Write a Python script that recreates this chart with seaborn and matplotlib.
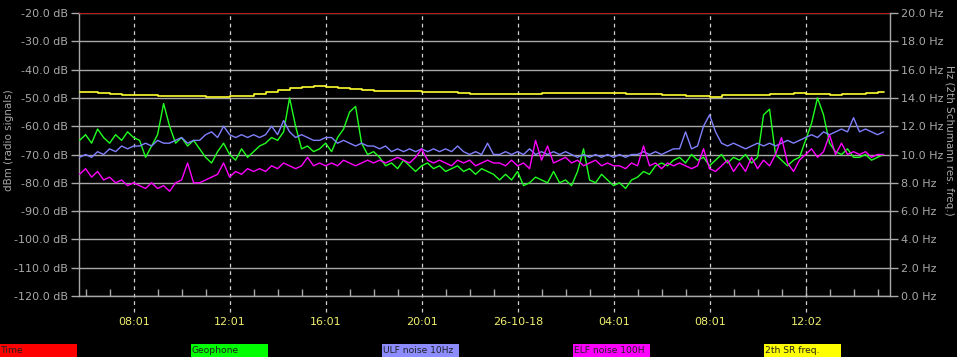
import numpy as np
import matplotlib
matplotlib.use("Agg")
import matplotlib.pyplot as plt
from matplotlib.patches import Rectangle
import seaborn as sns

# hours counted from 25-10-18 00:00, one sample every 15 min
hours = 5.75 + 0.25 * np.arange(135)
hours_sr = 5.75 + 0.5 * np.arange(68)

geophone = [
    -65, -63, -66, -61, -64, -66, -63, -65, -62, -64,
    -65, -71, -67, -63, -52, -60, -66, -64, -67, -65,
    -68, -71, -73, -69, -66, -70, -72, -68, -71, -69,
    -67, -66, -64, -65, -62, -50, -60, -68, -67, -69,
    -68, -66, -69, -64, -61, -55, -53, -66, -70, -69,
    -71, -74, -73, -75, -72, -74, -76, -74, -73, -75,
    -74, -76, -75, -74, -76, -75, -77, -75, -76, -77,
    -79, -77, -79, -76, -81, -80, -78, -79, -80, -76,
    -80, -79, -81, -76, -68, -79, -80, -77, -79, -81,
    -80, -82, -79, -78, -76, -77, -74, -73, -74, -72,
    -71, -73, -70, -72, -71, -74, -72, -70, -73, -71,
    -72, -70, -73, -71, -56, -54, -70, -72, -74, -72,
    -71, -65, -59, -50, -56, -66, -69, -70, -68, -71,
    -71, -70, -72, -71, -70]

ulf_noise = [
    -71, -70, -71, -69, -70, -68, -69, -67, -68, -67,
    -67, -66, -67, -65, -66, -66, -65, -64, -66, -65,
    -65, -63, -62, -64, -60, -63, -64, -63, -64, -63,
    -64, -63, -60, -63, -58, -62, -64, -63, -64, -65,
    -65, -64, -64, -66, -65, -66, -67, -66, -67, -67,
    -68, -67, -69, -68, -69, -68, -69, -68, -69, -68,
    -69, -68, -69, -67, -69, -70, -69, -70, -66, -70,
    -70, -69, -70, -69, -70, -68, -70, -69, -70, -69,
    -70, -69, -70, -71, -70, -71, -70, -71, -70, -71,
    -70, -71, -70, -70, -69, -70, -69, -70, -69, -68,
    -68, -62, -68, -67, -60, -56, -62, -66, -67, -66,
    -67, -68, -67, -66, -67, -66, -67, -66, -65, -66,
    -65, -64, -63, -64, -62, -63, -62, -61, -62, -57,
    -62, -61, -62, -63, -62]

elf_noise = [
    -77, -75, -78, -76, -79, -78, -80, -79, -81, -80,
    -81, -82, -80, -82, -81, -83, -80, -79, -73, -80,
    -80, -79, -78, -77, -73, -78, -76, -77, -75, -76,
    -75, -76, -74, -75, -73, -74, -75, -74, -71, -74,
    -73, -74, -73, -74, -72, -73, -74, -73, -72, -73,
    -72, -73, -72, -71, -72, -73, -71, -68, -72, -73,
    -72, -73, -74, -72, -73, -72, -74, -73, -72, -73,
    -73, -74, -72, -74, -73, -75, -65, -72, -67, -73,
    -72, -71, -73, -72, -74, -73, -72, -74, -73, -74,
    -74, -75, -73, -74, -67, -74, -73, -75, -73, -74,
    -73, -74, -75, -74, -68, -75, -76, -74, -72, -76,
    -73, -76, -71, -75, -72, -74, -70, -64, -73, -76,
    -72, -70, -68, -71, -69, -63, -70, -66, -70, -69,
    -70, -69, -71, -70, -70]

sr_freq = [
    14.4, 14.4, 14.35, 14.3, 14.2, 14.2, 14.2, 14.15, 14.15, 14.1,
    14.1, 14.05, 14.05, 14.1, 14.15, 14.3, 14.45, 14.55, 14.7, 14.8,
    14.85, 14.8, 14.7, 14.6, 14.55, 14.5, 14.5, 14.5, 14.5, 14.45,
    14.45, 14.4, 14.35, 14.3, 14.27, 14.27, 14.27, 14.27, 14.3, 14.35,
    14.37, 14.37, 14.37, 14.37, 14.37, 14.35, 14.3, 14.27, 14.25, 14.22,
    14.2, 14.15, 14.1, 14.05, 14.2, 14.2, 14.2, 14.2, 14.25, 14.3,
    14.33, 14.3, 14.25, 14.2, 14.25, 14.3, 14.35, 14.4]

time_level = -20.0
tick_hours = [8.017, 12.017, 16.017, 20.017, 24.017, 28.017, 32.017, 36.033]
tick_labels = ["08:01", "12:01", "16:01", "20:01", "26-10-18", "04:01", "08:01", "12:02"]
legend_names = ["Time", "Geophone", "ULF noise 10Hz", "ELF noise 100H", "2th SR freq."]
legend_colors = ["#ff0000", "#00ff00", "#8c8cff", "#ff00ff", "#ffff00"]

sns.set_style("dark")
plt.rcParams['font.family'] = ['DejaVu Sans']
grey = "#a8a8a8"

fig = plt.figure(figsize=(9.57, 3.57), dpi=100, facecolor="black")
ax = fig.add_axes([79 / 957, 1 - 296 / 357, 811 / 957, 283 / 357])
ax.set_facecolor("black")
ax2 = ax.twinx()

ax.set_xlim(5.725, 39.52)
ax.set_ylim(-120, -20)
ax2.set_ylim(0, 20)

# grid
ax.set_yticks(np.arange(-120, -19, 10))
ax.yaxis.grid(True, color=grey, lw=1)
ax.xaxis.grid(False)
for t in tick_hours:
    ax.axvline(t, ymin=-0.055, ymax=1, color="#d0d0d0", lw=0.9,
               ls=(0, (3, 3)), clip_on=False, zorder=1)

sns.lineplot(x=hours, y=geophone, ax=ax, color="#20ff20", lw=1, zorder=3)
sns.lineplot(x=hours, y=ulf_noise, ax=ax, color="#8080ff", lw=1, zorder=3)
sns.lineplot(x=hours, y=elf_noise, ax=ax, color="#ff00ff", lw=1, zorder=4)
ax.axhline(time_level, color="#c00000", lw=1.2, zorder=5)
sns.lineplot(x=hours_sr, y=sr_freq, ax=ax2, color="#ffff30", lw=1.2,
             drawstyle="steps-mid", zorder=5)

# axes styling
for a in (ax, ax2):
    for s in a.spines.values():
        s.set_visible(False)
ax.spines["left"].set_visible(True)
ax.spines["bottom"].set_visible(True)
ax2.spines["right"].set_visible(True)
for s in (ax.spines["left"], ax.spines["bottom"], ax2.spines["right"]):
    s.set_color(grey)
    s.set_linewidth(1)

ax.set_yticklabels([f"{v:.1f} dB" for v in np.arange(-120, -19, 10)])
ax2.set_yticks(np.arange(0, 21, 2))
ax2.set_yticklabels([f"{v:.1f} Hz" for v in np.arange(0, 21, 2)])
ax.tick_params(axis="y", colors=grey, labelsize=8, length=6, width=1, pad=2, left=True)
ax2.tick_params(axis="y", colors=grey, labelsize=8, length=6, width=1, pad=2, right=True)

ax.set_xticks(tick_hours)
ax.set_xticklabels(tick_labels)
ax.set_xticks(np.arange(6.017, 39.2, 1.0), minor=True)
ax.tick_params(axis="x", which="major", length=0, pad=15, labelsize=8,
               labelcolor="#f0f070")
ax.tick_params(axis="x", which="minor", direction="in", length=5,
               width=1, color=grey, bottom=True)

ax.set_ylabel("dBm (radio signals)", color=grey, fontsize=7.5, va="center")
ax.yaxis.set_label_coords(-0.086, 0.55)
ax2.set_ylabel("Hz (2th Schumann res. freq.)", color=grey, fontsize=7.5,
               rotation=270, va="center")
ax2.yaxis.set_label_coords(1.073, 0.55)
ax.set_xlabel("")

# colour legend strip along the bottom
for i, (name, col) in enumerate(zip(legend_names, legend_colors)):
    x0 = i * 191 / 957
    fig.patches.append(Rectangle((x0, 0), 77 / 957, 13 / 357, transform=fig.transFigure,
                                 facecolor=col, edgecolor="none"))
    fig.text(x0 + 1 / 957, 6.5 / 357, name, color="#202020", fontsize=6.6,
             va="center", ha="left")

fig.savefig("out.png", dpi=100, facecolor="black")
